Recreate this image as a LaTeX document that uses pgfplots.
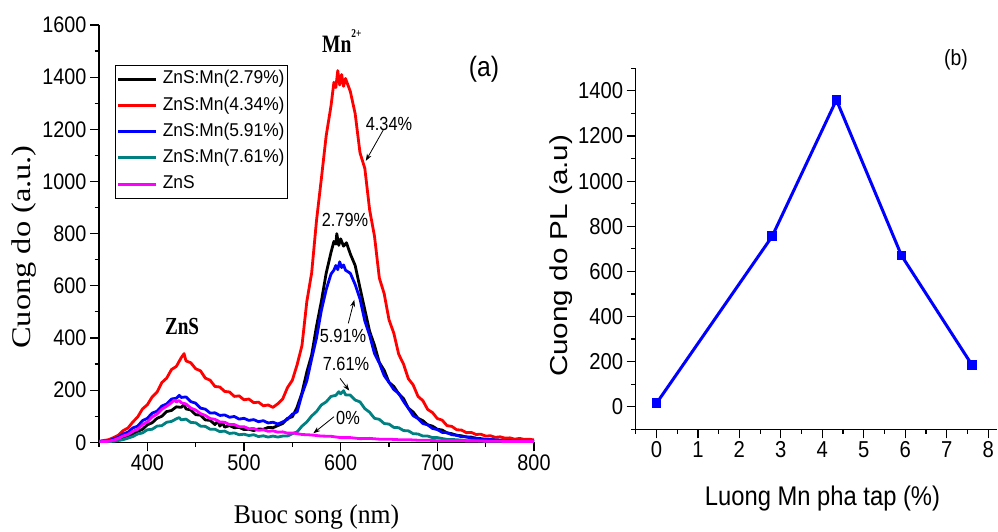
\documentclass[border=0pt]{standalone}
\usepackage{fontspec}
\setmainfont{Liberation Sans}
\newfontfamily\tickfont[FakeStretch=0.88]{Liberation Sans}
\newfontfamily\legfont[FakeStretch=0.94]{Liberation Sans}
\newfontfamily\annfont[FakeStretch=0.86]{Liberation Sans}
\newfontfamily\vsans[FakeStretch=1.21]{Liberation Sans}
\newfontfamily\hsans[FakeStretch=0.88]{Liberation Sans}
\newfontfamily\xserif[FakeStretch=0.95]{Liberation Serif}
\newfontfamily\vserif[FakeStretch=1.2]{Liberation Serif}
\newfontfamily\bserif[FakeStretch=0.78]{Liberation Serif}
\usepackage{pgfplots}
\pgfplotsset{compat=1.18}
\usetikzlibrary{arrows.meta}
\definecolor{cteal}{RGB}{0,128,128}
\definecolor{cmag}{RGB}{255,0,255}
\pgfplotsset{
  myaxis/.style={
    scale only axis,
    axis x line*=bottom, axis y line*=left,
    axis line style={line width=1.2pt, black},
    tick align=outside, major tick length=9pt, minor tick length=4.5pt,
    every tick/.style={black, line width=1.2pt},
    /pgf/number format/assume math mode=true,
    /pgf/number format/1000 sep={},
    scaled ticks=false,
  }
}
\begin{document}
\begin{tikzpicture}
\useasboundingbox (0pt,0pt) rectangle (998pt,531pt);
% ---------------- left panel ----------------
\begin{axis}[myaxis,
  at={(99pt,88.7pt)}, anchor=south west,
  width=435pt, height=417.3pt,
  xmin=350, xmax=800, ymin=0, ymax=1600,
  xtick={400,500,600,700,800}, minor xtick={350,450,550,650,750},
  ytick={0,200,...,1600}, minor ytick={100,300,...,1500},
  tick label style={font=\tickfont\fontsize{22.5}{24}\selectfont},
  xlabel={\xserif\fontsize{27}{29}\selectfont Buoc song (nm)},
  xlabel style={at={(axis description cs:0.5,-0.178)}, anchor=center},
  ylabel={\vserif\fontsize{27}{29}\selectfont Cuong do (a.u.)},
  ylabel style={at={(axis description cs:-0.1724,0.468)}, anchor=center},
  legend style={at={(axis cs:366.5,1447)}, anchor=north west, draw=black, line width=0.8pt,
    inner xsep=1.5pt, inner ysep=4.5pt, row sep=7.2pt,
    font=\legfont\fontsize{18.5}{20}\selectfont,
    nodes={inner sep=1pt, text height=13pt, text depth=4pt}},
  legend cell align=left,
  legend image code/.code={\draw[#1, line width=3pt] (0pt,0pt) -- (38pt,0pt); \path (42pt,0pt);},
]
\addplot[black, line width=2.8pt, line join=round] coordinates {
(350,2) (355,3) (360,4) (365,6) (370,9) (375,14) (380,23) (385,30) (390,42) (395,50)
(400,67) (405,75) (410,92) (415,100) (420,118) (425,122) (430,136) (435,134) (438,145) (440,128)
(445,124) (450,106) (455,104) (460,86) (465,84) (470,68) (473,82) (475,62) (478,75) (480,58)
(485,64) (490,56) (495,57) (500,49) (505,50) (510,45) (515,51) (520,50) (525,57) (530,56)
(535,64) (540,72) (545,92) (550,98) (555,135) (560,190) (565,270) (570,335) (575,445) (580,540)
(585,648) (590,728) (593,770) (595,760) (596,800) (598,755) (600,780) (603,752) (606,765) (610,722)
(615,678) (620,592) (625,508) (630,425) (635,372) (640,306) (645,276) (650,230) (655,214) (660,186)
(665,168) (670,131) (675,116) (680,92) (685,83) (690,67) (695,62) (700,50) (705,47) (710,36)
(715,33) (720,27) (725,25) (730,20) (735,20) (740,15) (745,14) (750,11) (760,9) (770,7)
(780,6) (790,5) (800,4)};
\addlegendentry{ZnS:Mn(2.79\%)}
\addplot[red, line width=2.8pt, line join=round] coordinates {
(350,4) (355,7) (360,10) (365,18) (370,27) (375,45) (380,55) (385,78) (390,97) (395,128)
(400,144) (405,174) (410,192) (415,229) (420,246) (425,279) (430,291) (435,324) (438,340) (440,312)
(445,305) (450,282) (455,274) (460,246) (465,238) (470,214) (475,212) (480,195) (485,193) (490,176)
(495,178) (500,163) (505,166) (510,152) (515,154) (520,140) (525,143) (530,134) (535,148) (540,166)
(545,210) (550,238) (555,298) (560,372) (565,540) (570,650) (575,850) (580,1010) (585,1175) (590,1290)
(593,1380) (595,1360) (597,1425) (599,1370) (601,1410) (603,1365) (605,1395) (610,1345) (615,1260) (620,1110)
(625,1050) (630,890) (635,790) (640,630) (645,570) (650,470) (655,418) (660,338) (665,300) (670,244)
(675,220) (680,176) (685,160) (690,126) (695,114) (700,91) (705,85) (710,64) (715,61) (720,48)
(725,47) (730,37) (735,38) (740,30) (745,31) (750,24) (755,25) (760,19) (765,21) (770,16)
(775,17) (780,12) (785,15) (790,11) (795,12) (800,9)};
\addlegendentry{ZnS:Mn(4.34\%)}
\addplot[blue, line width=2.8pt, line join=round] coordinates {
(350,3) (355,4) (360,5) (365,13) (370,19) (375,32) (380,39) (385,55) (390,62) (395,83)
(400,92) (405,112) (410,119) (415,139) (420,147) (425,166) (430,169) (433,180) (435,172) (440,174)
(445,156) (450,150) (455,131) (460,127) (465,112) (470,113) (475,103) (480,105) (485,96) (490,99)
(495,89) (500,92) (505,84) (510,87) (515,79) (520,83) (525,74) (530,77) (535,70) (540,78)
(545,88) (550,108) (555,117) (560,184) (565,236) (570,320) (575,400) (580,505) (585,585) (590,645)
(593,660) (595,678) (597,662) (599,692) (601,670) (603,680) (605,660) (610,648) (615,605) (620,550)
(625,465) (630,410) (635,340) (640,304) (645,256) (650,230) (655,202) (660,188) (665,157) (670,131)
(675,102) (680,91) (685,72) (690,67) (695,53) (700,49) (705,38) (710,37) (715,29) (720,27)
(725,21) (730,21) (735,16) (740,16) (745,12) (750,12) (760,9) (770,7) (780,6) (790,5) (800,4)};
\addlegendentry{ZnS:Mn(5.91\%)}
\addplot[cteal, line width=2.8pt, line join=round] coordinates {
(350,1) (355,2) (360,3) (365,4) (370,7) (375,10) (380,16) (385,22) (390,32) (395,36)
(400,48) (405,50) (410,62) (415,64) (420,77) (425,80) (430,90) (433,95) (435,86) (440,89)
(445,76) (450,75) (455,62) (460,61) (465,50) (470,50) (475,41) (480,43) (485,34) (490,36)
(495,29) (500,31) (505,26) (510,29) (515,22) (520,25) (525,20) (530,24) (535,20) (540,24)
(545,24) (550,33) (555,40) (560,62) (565,78) (570,101) (575,118) (580,143) (585,155) (590,176)
(595,180) (598,194) (600,186) (603,198) (605,182) (610,181) (615,162) (620,155) (625,129) (630,115)
(635,92) (640,88) (645,72) (650,70) (655,57) (660,56) (665,45) (670,44) (675,33) (680,32)
(685,24) (690,24) (695,18) (700,18) (710,11) (720,10) (730,6) (740,6) (750,4) (760,4) (780,3) (800,3)};
\addlegendentry{ZnS:Mn(7.61\%)}
\addplot[cmag, line width=2.8pt, line join=round] coordinates {
(350,2) (355,3) (360,4) (365,8) (370,15) (375,24) (380,30) (385,42) (390,50) (395,68)
(400,78) (405,97) (410,108) (415,127) (420,138) (425,152) (428,162) (430,155) (433,160) (435,152)
(440,147) (445,131) (450,124) (455,110) (460,103) (465,91) (470,88) (475,78) (480,77) (485,68)
(490,68) (495,60) (500,60) (505,52) (510,53) (515,46) (520,48) (525,42) (530,44) (535,39)
(540,40) (545,35) (550,36) (560,30) (570,28) (580,24) (590,23) (600,18) (610,18) (620,14)
(630,15) (640,12) (650,12) (660,10) (670,10) (680,8) (690,8) (700,6) (720,6) (740,5)
(760,4) (780,3) (800,3)};
\addlegendentry{ZnS}
% annotations
\node[font=\tickfont\fontsize{28}{30}\selectfont] at (axis cs:748.3,1431) {(a)};
\node[anchor=base west, font=\bserif\bfseries\fontsize{25}{26}\selectfont, inner sep=0pt] at (axis cs:580.7,1495) {Mn\raisebox{15pt}{\fontsize{12}{12}\selectfont 2+}};
\node[anchor=base, font=\bserif\bfseries\fontsize{24.5}{26}\selectfont, inner sep=0pt] at (axis cs:435.9,415) {ZnS};
\node[font=\annfont\fontsize{19}{20}\selectfont] at (axis cs:650,1222) {4.34\%};
\node[font=\annfont\fontsize{19}{20}\selectfont] at (axis cs:604.5,852) {2.79\%};
\node[font=\annfont\fontsize{19}{20}\selectfont] at (axis cs:602.4,409) {5.91\%};
\node[font=\annfont\fontsize{19}{20}\selectfont] at (axis cs:605.5,300) {7.61\%};
\node[font=\annfont\fontsize{19}{20}\selectfont] at (axis cs:607.6,95) {0\%};
\draw[-{Stealth[length=7pt,width=5pt]}, line width=0.8pt] (axis cs:644,1197) -- (axis cs:626,1079);
\draw[-{Stealth[length=7pt,width=5pt]}, line width=0.8pt] (axis cs:607.9,456) -- (axis cs:614.1,546);
\draw[-{Stealth[length=7pt,width=5pt]}, line width=0.8pt] (axis cs:599.3,245) -- (axis cs:608.9,198);
\draw[-{Stealth[length=7pt,width=5pt]}, line width=0.8pt] (axis cs:593.1,98) -- (axis cs:571.7,34.5);
\end{axis}
% ---------------- right panel ----------------
\begin{axis}[myaxis,
  at={(635.7pt,101.7pt)}, anchor=south west,
  width=361.6pt, height=361pt,
  xmin=-0.5, xmax=8.22, ymin=-100, ymax=1500,
  xtick={0,1,...,8}, minor xtick={-0.5,0.5,...,7.5},
  ytick={0,200,...,1400}, minor ytick={-100,100,...,1500},
  tick label style={font=\tickfont\fontsize{23}{25}\selectfont},
  xlabel={\hsans\fontsize{27}{29}\selectfont Luong Mn pha tap (\%)},
  xlabel style={at={(axis description cs:0.5166,-0.193)}, anchor=center},
  ylabel={\vsans\fontsize{24.5}{26}\selectfont Cuong do PL (a.u)},
  ylabel style={at={(axis description cs:-0.205,0.4806)}, anchor=center},
  clip=false,
]
\addplot[blue, line width=3pt, mark=square*, mark size=3.4pt, mark options={solid}] coordinates {
(0,15) (2.79,755) (4.34,1360) (5.91,670) (7.61,185)};
\node[font=\tickfont\fontsize{22}{24}\selectfont] at (axis cs:7.224,1537) {(b)};
\end{axis}
\end{tikzpicture}
\end{document}
